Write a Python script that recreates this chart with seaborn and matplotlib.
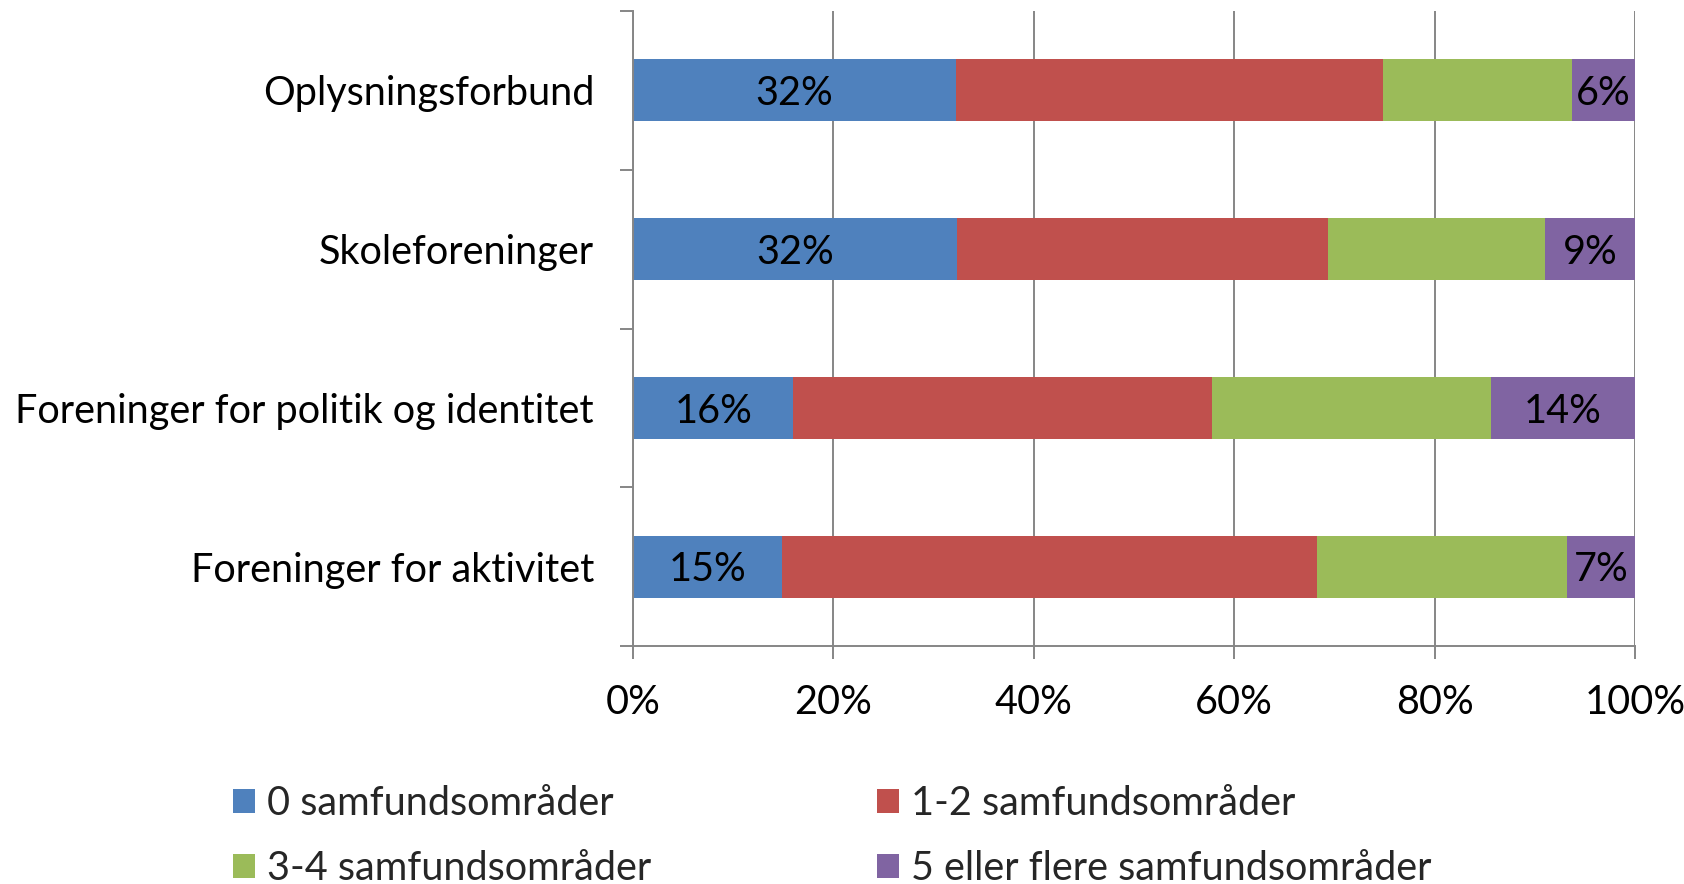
import pandas as pd
import matplotlib.pyplot as plt
import seaborn as sns
from matplotlib.patches import Patch

# data (percent of each group)
categories = ['Oplysningsforbund', 'Skoleforeninger',
              'Foreninger for politik og identitet', 'Foreninger for aktivitet']
series_names = ['0 samfundsområder', '1-2 samfundsområder',
                '3-4 samfundsområder', '5 eller flere samfundsområder']
zero = [32.2, 32.3, 16.0, 14.9]
one_two = [42.7, 37.1, 41.8, 53.4]
three_four = [18.8, 21.6, 27.8, 24.9]
five_plus = [6.3, 9.0, 14.4, 6.8]
shown_labels = {0: ['32%', '32%', '16%', '15%'], 3: ['6%', '9%', '14%', '7%']}
colors = ['#4F81BD', '#C0504D', '#9BBB59', '#8064A2']

sns.set_theme(style='white')
plt.rcParams['font.family'] = ['Lato', 'DejaVu Sans']
fs = 28.5

df = pd.DataFrame({'kategori': categories, 's0': zero, 's1': one_two,
                   's2': three_four, 's3': five_plus})
cols = ['s0', 's1', 's2', 's3']
cum = df[cols].cumsum(axis=1)
cum['kategori'] = df['kategori']

fig = plt.figure(figsize=(16.84, 8.84), dpi=100)
ax = fig.add_axes([633 / 1684, 1 - 646 / 884, 1002 / 1684, 635 / 884])

# stacked bars: draw cumulative totals, longest first
for i in reversed(range(4)):
    sns.barplot(data=cum, x=cols[i], y='kategori', orient='h', color=colors[i],
                saturation=1, width=0.39, linewidth=0, ax=ax)

for i, labels in shown_labels.items():
    for j, lab in enumerate(labels):
        centre = cum[cols[i]][j] - df[cols[i]][j] / 2
        ax.text(centre, j + 0.02, lab, ha='center', va='center', fontsize=fs, color='black')

ax.set_xlim(0, 100)
ax.set_ylim(3.5, -0.5)
ax.set_xticks([0, 20, 40, 60, 80, 100])
ax.set_xticklabels(['0%', '20%', '40%', '60%', '80%', '100%'], fontsize=fs)
ax.set_yticks(range(4))
ax.set_yticklabels(categories, fontsize=fs)
ax.set_yticks([-0.5, 0.5, 1.5, 2.5, 3.5], minor=True)
ax.set_xlabel('')
ax.set_ylabel('')
ax.grid(axis='x', color='#868686', linewidth=1.4)
ax.grid(axis='y', visible=False)
ax.set_axisbelow(True)
for s in ['top', 'right']:
    ax.spines[s].set_visible(False)
for s in ['left', 'bottom']:
    ax.spines[s].set_color('#868686')
    ax.spines[s].set_linewidth(1.4)
ax.tick_params(axis='y', which='major', length=0, pad=28, labelcolor='black')
ax.tick_params(axis='y', which='minor', left=True, length=9.5, width=1.4, color='#868686')
ax.tick_params(axis='x', which='major', bottom=True, length=9.5, width=1.4,
               color='#868686', pad=18, labelcolor='black')

handles = [Patch(facecolor=c, edgecolor='none') for c in colors]
order = [0, 2, 1, 3]
fig.legend([handles[k] for k in order], [series_names[k] for k in order],
           ncol=2, loc='upper left', bbox_to_anchor=(217 / 1684, 1 - 769 / 884),
           frameon=False, fontsize=fs, handlelength=0.56, handleheight=0.56,
           handletextpad=0.3, columnspacing=5.7, labelspacing=0.72, borderaxespad=0)

plt.savefig('out.png', dpi=100)
plt.close(fig)
